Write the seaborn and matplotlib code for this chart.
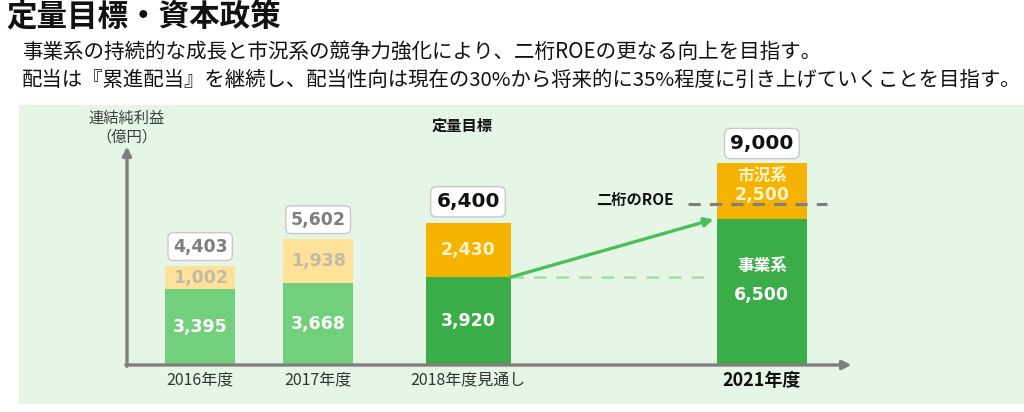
import matplotlib
matplotlib.use("Agg")
import matplotlib.pyplot as plt
from matplotlib.patches import Rectangle
import seaborn as sns

# data
years = ["2016年度", "2017年度", "2018年度見通し", "2021年度"]
business = [3395, 3668, 3920, 6500]   # 事業系
market = [1002, 1938, 2430, 2500]     # 市況系
totals = [4403, 5602, 6400, 9000]
roe_level = 7200

sns.set_theme(style="white")
plt.rcParams['font.family'] = ['Noto Sans CJK JP', 'DejaVu Sans']

W, H = 1024, 412
fig = plt.figure(figsize=(W / 100, H / 100), dpi=100)
fig.patch.set_facecolor("white")

def fx(x):
    return x / W

def fy(y):
    return 1 - y / H

# light green panel
fig.patches.append(Rectangle((fx(19), fy(404)), fx(W - 19), (404 - 105) / H,
                             transform=fig.transFigure, facecolor="#E6F6E6",
                             edgecolor="none", zorder=-10))

# titles
fig.text(fx(6), fy(18), "定量目標・資本政策", fontsize=22, fontweight="bold",
         va="center", ha="left", color="#111111")
fig.text(fx(22), fy(52), "事業系の持続的な成長と市況系の競争力強化により、二桁ROEの更なる向上を目指す。",
         fontsize=14.8, va="center", ha="left", color="#111111")
fig.text(fx(22), fy(80), "配当は『累進配当』を継続し、配当性向は現在の30%から将来的に35%程度に引き上げていくことを目指す。",
         fontsize=14.7, va="center", ha="left", color="#111111")

# chart axes
ax = fig.add_axes([fx(127), fy(365), fx(870 - 127), (365 - 105) / H])
ax.set_zorder(2)
ax.set_facecolor("none")
ax.set_xlim(0, 743 / 118)
ax.set_ylim(0, 11600)
ax.axis("off")

pos = [0.62, 1.62, 2.89, 5.38]
widths = [0.59, 0.59, 0.72, 0.76]
green_c = ["#72CF7C", "#72CF7C", "#3AAD48", "#3AAD48"]
yellow_c = ["#FFE29A", "#FFE29A", "#F5B300", "#F5B300"]

ax.bar(pos, business, width=widths, color=green_c, linewidth=0, zorder=2)
ax.bar(pos, market, width=widths, bottom=business, color=yellow_c, linewidth=0, zorder=2)

num_font = ['DejaVu Sans']
for i in range(4):
    faded = i < 2
    b, m, t = business[i], market[i], totals[i]
    if i < 3:
        ax.text(pos[i], b / 2, f"{b:,}", ha="center", va="center", fontsize=12.5,
                fontweight="bold", color="white", family=num_font, zorder=3)
        ax.text(pos[i], b + m / 2, f"{m:,}", ha="center", va="center", fontsize=12.5,
                fontweight="bold", color="#C2BAA4" if faded else "#FFF3CC",
                family=num_font, zorder=3)
    else:
        ax.text(pos[i], b * 0.68, "事業系", ha="center", va="center", fontsize=12,
                fontweight="bold", color="white", zorder=3)
        ax.text(pos[i], b * 0.48, f"{b:,}", ha="center", va="center", fontsize=12.5,
                fontweight="bold", color="white", family=num_font, zorder=3)
        ax.text(pos[i], b + m * 0.75, "市況系", ha="center", va="center", fontsize=12,
                fontweight="bold", color="#FFF3CC", zorder=3)
        ax.text(pos[i], b + m * 0.43, f"{m:,}", ha="center", va="center", fontsize=12.5,
                fontweight="bold", color="#FFF3CC", family=num_font, zorder=3)
    # total box
    ax.text(pos[i], t + 880, f"{t:,}", ha="center", va="center",
            fontsize=12.5 if faded else 14.5, fontweight="bold",
            color="#7F7F7F" if faded else "#111111", family=num_font, zorder=4,
            bbox=dict(boxstyle="round,pad=0.28,rounding_size=0.3", fc="white",
                      ec="#C8C8C8", lw=1))
    # year labels
    ax.text(pos[i], -680, years[i], ha="center", va="center",
            fontsize=13 if i == 3 else 11.5,
            fontweight="bold" if i == 3 else "normal",
            color="#111111" if i == 3 else "#333333", clip_on=False)

# axes arrows
axis_c = "#7F7F7F"
ax.annotate("", xy=(0, 9750), xytext=(0, -60),
            arrowprops=dict(arrowstyle="-|>", lw=2.4, color=axis_c, mutation_scale=13,
                            shrinkA=0, shrinkB=0), annotation_clip=False, zorder=5)
ax.annotate("", xy=(6.14, 0), xytext=(-0.01, 0),
            arrowprops=dict(arrowstyle="-|>", lw=2.4, color=axis_c, mutation_scale=13,
                            shrinkA=0, shrinkB=0), annotation_clip=False, zorder=5)

# growth arrow and dashed helper lines
x_from = pos[2] + widths[2] / 2
x_to = pos[3] - widths[3] / 2
ax.plot([x_from, x_to - 0.05], [business[2], business[2]], color="#A6DCA6",
        lw=1.8, dashes=(5, 4), zorder=1)
ax.annotate("", xy=(x_to - 0.03, business[3]), xytext=(x_from, business[2]),
            arrowprops=dict(arrowstyle="-|>", lw=2.4, color="#4CBF5A", mutation_scale=13,
                            shrinkA=0, shrinkB=0), zorder=3)
ax.plot([4.75, 5.93], [roe_level, roe_level], color="#7F7F7F", lw=2.2,
        dashes=(4, 3), zorder=4)
ax.text(4.63, roe_level + 150, "二桁のROE", ha="right", va="center", fontsize=11,
        fontweight="bold", color="#111111")

# other labels
fig.text(fx(462), fy(126), "定量目標", fontsize=11, fontweight="bold",
         ha="center", va="center", color="#111111")
fig.text(fx(127), fy(118), "連結純利益", fontsize=11, ha="center", va="center",
         color="#404040")
fig.text(fx(127), fy(137), "（億円）", fontsize=11, ha="center", va="center",
         color="#404040")

fig.savefig("out.png", dpi=100)
